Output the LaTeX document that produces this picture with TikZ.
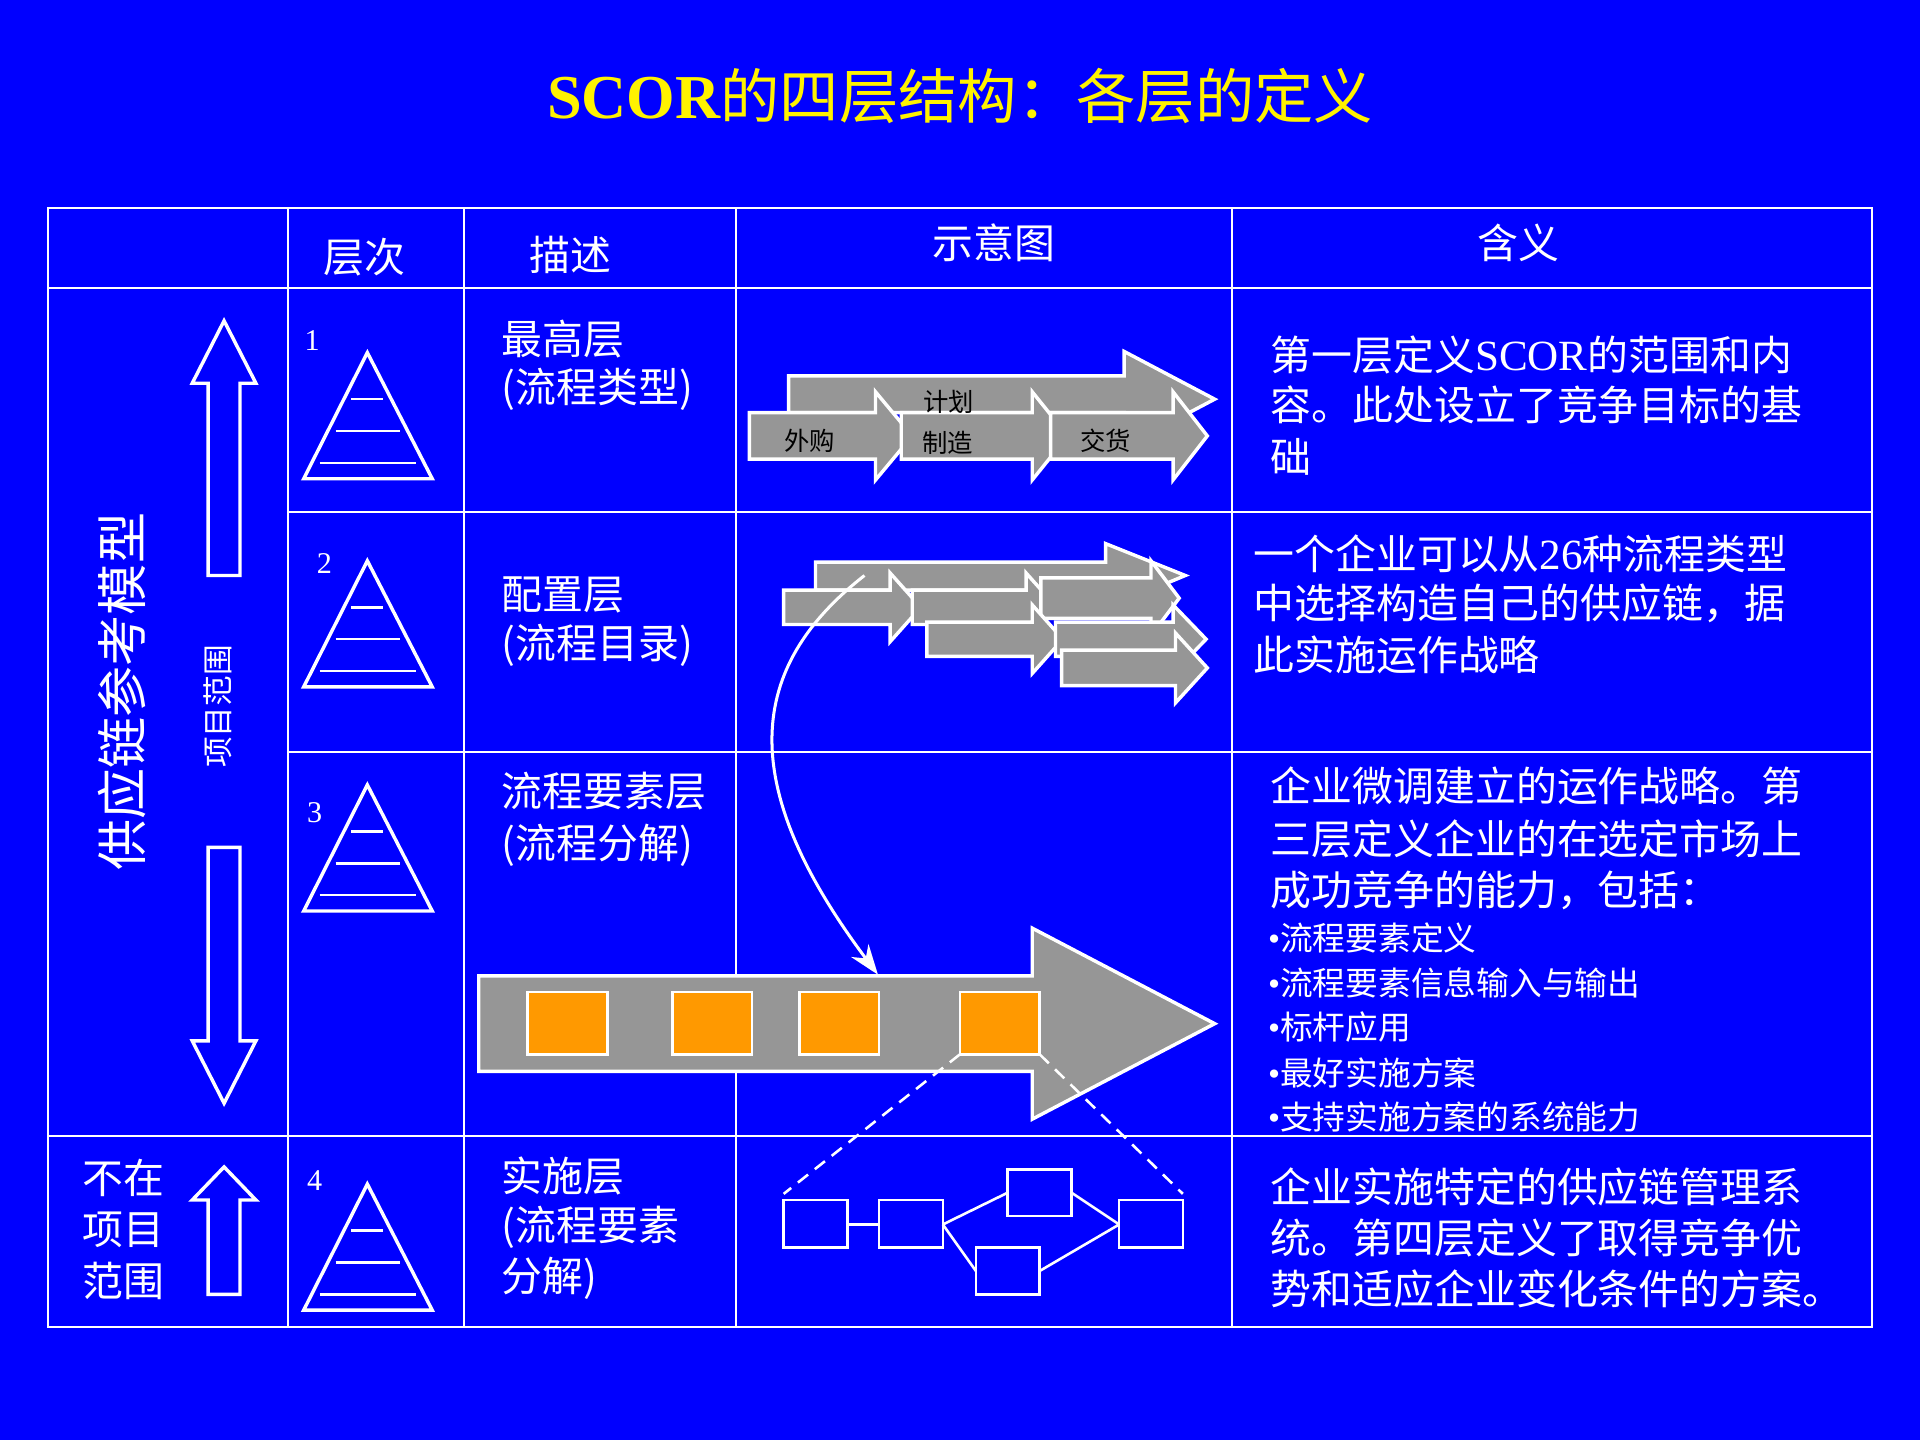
\documentclass[tikz,border=0pt]{standalone}
\usepackage{fontspec}
\setmainfont{Liberation Serif}
\newfontfamily\cjk{Noto Sans CJK SC}[Scale=0.95]
\usetikzlibrary{arrows.meta}
\definecolor{bg}{RGB}{0,0,255}
\definecolor{gr}{RGB}{150,150,150}
\definecolor{org}{RGB}{255,153,0}
\begin{document}
\begin{tikzpicture}[x=0.01cm,y=-0.01cm,
 grid/.style={draw=white,line width=0.5pt},
 t/.style={text=white,inner sep=0,font=\fontsize{10}{12}\selectfont\cjk},
 tl/.style={t,anchor=west},
 bl/.style={text=white,inner sep=0,anchor=west,font=\fontsize{8}{10}\selectfont\cjk},
 sm/.style={text=black,inner sep=0,font=\fontsize{6.2}{7}\selectfont\cjk},
 ga/.style={fill=gr,draw=white,line width=0.8pt},
 hol/.style={draw=white,line width=0.8pt},
 ob/.style={fill=org,draw=white,line width=0.6pt}]
\fill[bg] (0,0) rectangle (1568,1176);
\useasboundingbox (0,0) rectangle (1568,1176);
\node[text=yellow,font=\fontsize{14.5}{16}\selectfont\bfseries] (title) at (784,78) {SCOR{\cjk\mdseries 的四层结构：各层的定义}};
% grid
\draw[grid] (39,170) rectangle (1529,1084);
\foreach \x in {235,379,601,1006} \draw[grid] (\x,170) -- (\x,1084);
\draw[grid] (39,235) -- (1529,235);
\draw[grid] (235,418) -- (1529,418);
\draw[grid] (235,614) -- (1529,614);
\draw[grid] (39,928) -- (1529,928);
% headers
\node[t] (h1) at (298,210) {层次};
\node[t] (h2) at (466,208) {描述};
\node[t] (h3) at (812,198) {示意图};
\node[t] (h4) at (1240,198) {含义};
% pyramids
\foreach \n/\y/\ny/\nx in {1/288/278/255,2/458/460/265,3/641/664/257,4/967/964/257}{
 \draw[hol] (300,\y) -- (353,\y+103) -- (248,\y+103) -- cycle;
 \draw[white,line width=0.6pt] (287,\y+38) -- (313,\y+38) (274,\y+64) -- (327,\y+64) (261,\y+90) -- (340,\y+90);
 \node[text=white,inner sep=0,font=\fontsize{7}{8}\selectfont] at (\nx,\ny) {\n};
}
% left arrows
\draw[hol] (170,470) -- (170,313) -- (157,313) -- (183,262) -- (209,313) -- (196,313) -- (196,470) -- cycle;
\draw[hol] (170,692) -- (170,850) -- (157,850) -- (183,901) -- (209,850) -- (196,850) -- (196,692) -- cycle;
\draw[hol] (170,1057) -- (170,980) -- (157,980) -- (183,953) -- (209,980) -- (196,980) -- (196,1057) -- cycle;
\node[text=white,inner sep=0,rotate=90,font=\fontsize{12.5}{14}\selectfont\cjk] (scm) at (100,565) {供应链参考模型};
\node[text=white,inner sep=0,rotate=90,font=\fontsize{7.5}{9}\selectfont\cjk] (pr) at (178,577) {项目范围};
\node[tl] at (67,962) {不在};
\node[tl] at (67,1004) {项目};
\node[tl] at (67,1046) {范围};
% descriptions
\node[tl] at (409,277) {最高层};
\node[tl] at (409,318) {(\cjk 流程类型)};
\node[tl] at (409,486) {配置层};
\node[tl] at (409,527) {(\cjk 流程目录)};
\node[tl] at (409,646) {流程要素层};
\node[tl] at (409,690) {(\cjk 流程分解)};
\node[tl] at (409,960) {实施层};
\node[tl] at (409,1002) {(\cjk 流程要素};
\node[tl] at (409,1044) {分解)};
% meanings
\node[tl] at (1037,290) {第一层定义{\rmfamily SCOR}的范围和内};
\node[tl] at (1037,331) {容。此处设立了竞争目标的基};
\node[tl] at (1037,373) {础};
\node[tl] at (1023,452) {一个企业可以从{\rmfamily 26}种流程类型};
\node[tl] at (1023,493) {中选择构造自己的供应链，据};
\node[tl] at (1023,535) {此实施运作战略};
\node[tl] at (1037,642) {企业微调建立的运作战略。第};
\node[tl] at (1037,685) {三层定义企业的在选定市场上};
\node[tl] at (1037,727) {成功竞争的能力，包括：};
\foreach \s/\y in {流程要素定义/766,流程要素信息输入与输出/803,标杆应用/839,最好实施方案/876,支持实施方案的系统能力/912}
 \node[bl] at (1035,\y) {\rmfamily\textbullet\cjk\s};
\node[tl] at (1037,969) {企业实施特定的供应链管理系};
\node[tl] at (1037,1011) {统。第四层定义了取得竞争优};
\node[tl] at (1037,1053) {势和适应企业变化条件的方案。};
% row1 arrows
\draw[ga] (644,337) -- (644,307) -- (918,307) -- (918,287) -- (992,326) -- (918,365) -- (918,337) -- cycle;
\draw[ga] (612,337) -- (715,337) -- (715,320) -- (745,356) -- (715,392) -- (715,375) -- (612,375) -- cycle;
\draw[ga] (736,337) -- (843,337) -- (843,320) -- (872,356) -- (843,392) -- (843,375) -- (736,375) -- cycle;
\draw[ga] (858,337) -- (958,337) -- (958,320) -- (986,356) -- (958,392) -- (958,375) -- (858,375) -- cycle;
\node[sm] (jh) at (775,328) {计划};
\node[sm] (wg) at (661,360) {外购};
\node[sm] (zz) at (774,362) {制造};
\node[sm] (jhh) at (903,360) {交货};
% row2 arrows
\draw[ga] (666,482) -- (666,459) -- (903,459) -- (903,444) -- (968,470) -- (903,497) -- (903,482) -- cycle;
\foreach \xa/\xb/\xt/\ya/\yb in {640/727/752/482/510, 745/838/863/482/510, 850/940/963/472/505, 757/843/868/508/536, 862/958/985/508/536, 867/960/986/531/560}{
 \draw[ga] (\xa,\ya) -- (\xb,\ya) -- (\xb,\ya-14) -- (\xt,{(\ya+\yb)/2}) -- (\xb,\yb+14) -- (\xb,\yb) -- (\xa,\yb) -- cycle;
}
% row3 big arrow
\draw[ga] (391,797) -- (843,797) -- (843,758) -- (992,836) -- (843,914) -- (843,875) -- (391,875) -- cycle;
\coordinate (cs) at (706,470);
\coordinate (ce) at (717,796);
\draw[white,line width=0.7pt,-{Stealth[length=7pt,width=5pt]}] (cs) .. controls (610,545) and (600,640) .. (ce);
\foreach \x [count=\i] in {431,549,653,784}
 \draw[ob] (\x,810) rectangle ++(65,51) coordinate (o\i);
\coordinate (d1) at (784,861);
\coordinate (d2) at (849,861);
% row4 boxes
\coordinate (e1) at (640,975);
\coordinate (e2) at (966,975);
\draw[white,line width=0.6pt,dash pattern=on 3pt off 2pt] (d1) -- (e1) (d2) -- (e2);
\draw[white,line width=0.6pt] (640,980) rectangle (692,1019);
\draw[white,line width=0.6pt] (718,980) rectangle (770,1019);
\draw[white,line width=0.6pt] (823,955) rectangle (875,993);
\draw[white,line width=0.6pt] (797,1019) rectangle (849,1057);
\draw[white,line width=0.6pt] (914,980) rectangle (966,1019);
\draw[white,line width=0.6pt] (692,1000) -- (718,1000) (770,1000) -- (823,974) (770,1000) -- (797,1038) (875,974) -- (914,1000) (849,1038) -- (914,1000);
\end{tikzpicture}
\end{document}
